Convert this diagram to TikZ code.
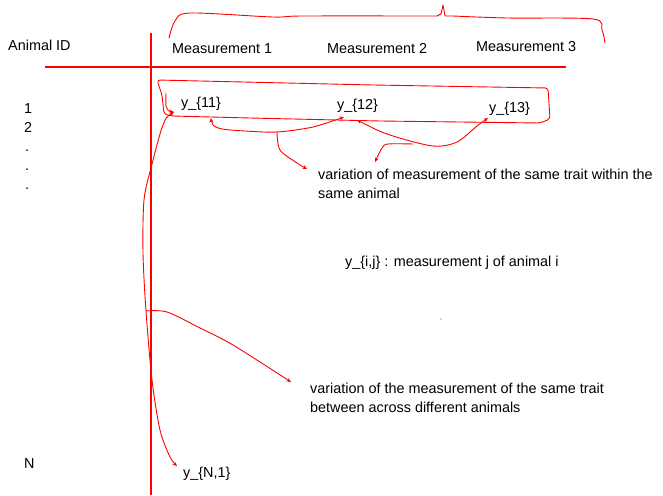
\documentclass[tikz,border=0pt]{standalone}
\usepackage{fontspec}
\setmainfont{Liberation Sans}
\usetikzlibrary{arrows.meta, positioning}

\begin{document}
\begin{tikzpicture}[x=1pt, y=-1pt,
    every node/.style={inner sep=0pt, anchor=base west, font=\fontsize{14.4}{18.5}\selectfont},
    pen/.style={draw=red, line width=0.9pt, line cap=round, line join=round},
    >={Stealth[length=4.5pt, width=4pt]}]
    \useasboundingbox (0,0) rectangle (663,495);

    % table head and rows
    \node (animalid) at (8,51) {Animal ID};
    \node (m1) at (172,53) {Measurement 1};
    \node (m2) at (327,53) {Measurement 2};
    \node (m3) at (476,52) {Measurement 3};
    \node (id1) at (24,113) {1};
    \node (id2) at (24,132) {2};
    \node (dot1) at (25,151) {.};
    \node (dot2) at (25,170) {.};
    \node (dot3) at (25,189) {.};
    \node (idN) at (24,468) {N};
    \node (y11) at (181,107) {y\_\{11\}};
    \node (y12) at (337,109) {y\_\{12\}};
    \node (y13) at (489,112) {y\_\{13\}};
    \node (yN1) at (183,477) {y\_\{N,1\}};

    % notes (base is the last line)
    \node[align=left] (within) at (318,198) {variation of measurement of the same trait within the\\same animal};
    \node (yij) at (345,266) {y\_\{i,j\} : measurement j of animal i};
    \node[align=left] (between) at (310,412) {variation of the measurement of the same trait\\between across different animals};

    \coordinate (in11) at (174,112);
    \coordinate (up11) at (211,118);
    \coordinate (in12) at (344,117);
    \coordinate (out12) at (357,120);
    \coordinate (in13) at (488,118);
    \coordinate (inN1) at (177,466);
    \coordinate (fork1) at (277,132);
    \coordinate (fork2) at (413,144);
    \coordinate (fork3) at (146,311);
    \coordinate (tipwithin) at (307,169);
    \coordinate (tipwithin2) at (375,162);
    \coordinate (tipbetween) at (291,382);

    % table rules
    \fill[red] (45,66.4) rectangle (566,67.8);
    \fill[red] (150,33) rectangle (152,495);

    % brace over the measurements
    \draw[pen] plot[smooth, tension=0.5] coordinates {(169,38) (175,21) (190,13) (273,17) (303,16) (437,16)};
    \draw[pen] (437,16) -- (441,14) -- (443,5) -- (445,16) -- (453,16);
    \draw[pen] plot[smooth, tension=0.5] coordinates {(453,16) (507,18) (593,19) (602,30) (605,43)};

    % first animal
    \draw[pen, rounded corners=3pt] (157,80) -- (373,85) -- (548,88) -- (550,119) -- (540,123) -- (380,121) -- (250,118) -- (172,116) -- (164,114) -- (162,95) -- cycle;
    \draw[pen, ->] plot[smooth] coordinates {(166,93) (166,106) (169,111) (in11)};

    % within an animal
    \draw[pen, <->] plot[smooth] coordinates {(up11) (213,125) (222,129) (245,131) (fork1) (313,127) (in12)};
    \draw[pen, ->] plot[smooth] coordinates {(fork1) (280,150) (297,163) (tipwithin)};
    \draw[pen, <->] plot[smooth] coordinates {(out12) (390,135) (433,146) (457,142) (477,126) (in13)};
    \draw[pen, ->] plot[smooth] coordinates {(fork2) (388,144) (382,148) (tipwithin2)};

    % across animals
    \draw[pen, <->] plot[smooth] coordinates {(in11) (163,125) (151,168) (144,200) (143,253) (fork3) (152,380) (160,430) (170,457) (inN1)};
    \draw[pen, ->] plot[smooth] coordinates {(fork3) (167,312) (200,328) (233,345) (tipbetween)};

    \fill[red] (441,319) circle (0.7);
\end{tikzpicture}
\end{document}
